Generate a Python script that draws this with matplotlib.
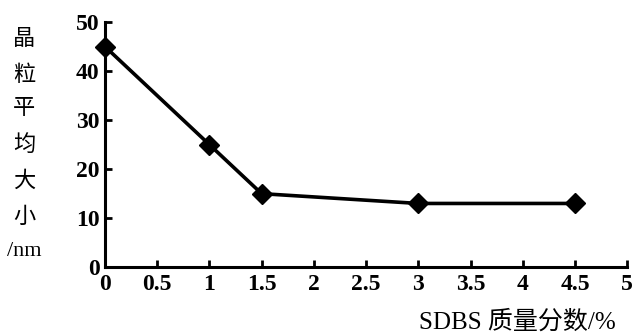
import matplotlib.pyplot as plt

# data
sdbs = [0, 1, 1.5, 3, 4.5]
grain = [45, 25, 15, 13, 13]
xticks = [0, 0.5, 1, 1.5, 2, 2.5, 3, 3.5, 4, 4.5, 5]
xticklabels = ["0", "0.5", "1", "1.5", "2", "2.5", "3", "3.5", "4", "4.5", "5"]
yticks = [0, 10, 20, 30, 40, 50]

plt.rcParams['font.family'] = ['Liberation Serif', 'Noto Sans CJK SC']

fig = plt.figure(figsize=(6.4, 3.34), dpi=100)
ax = fig.add_axes([0.164, 0.2, 0.816, 0.734])

ax.plot(sdbs, grain, color="black", linewidth=2.6, marker='D', markersize=10, clip_on=False)

ax.set_xlim(0, 5)
ax.set_ylim(0, 50)
ax.set_xticks(xticks)
ax.set_xticklabels(xticklabels)
ax.set_yticks(yticks)

for s in ['top', 'right']:
    ax.spines[s].set_visible(False)
for s in ['left', 'bottom']:
    ax.spines[s].set_linewidth(2.2)

ax.tick_params(direction='in', length=5, width=2, labelsize=17)
ax.tick_params(axis='x', pad=5)
ax.tick_params(axis='y', pad=4)
for label in ax.get_xticklabels() + ax.get_yticklabels():
    label.set_fontweight('bold')

fig.text(0.038, 0.565, "晶\n粒\n平\n均\n大\n小\n/nm", ha='center', va='center',
         fontsize=16, linespacing=2.0)
fig.text(0.962, 0.035, "SDBS 质量分数/%", ha='right', va='center', fontsize=18)

plt.savefig("out.png", dpi=100)
